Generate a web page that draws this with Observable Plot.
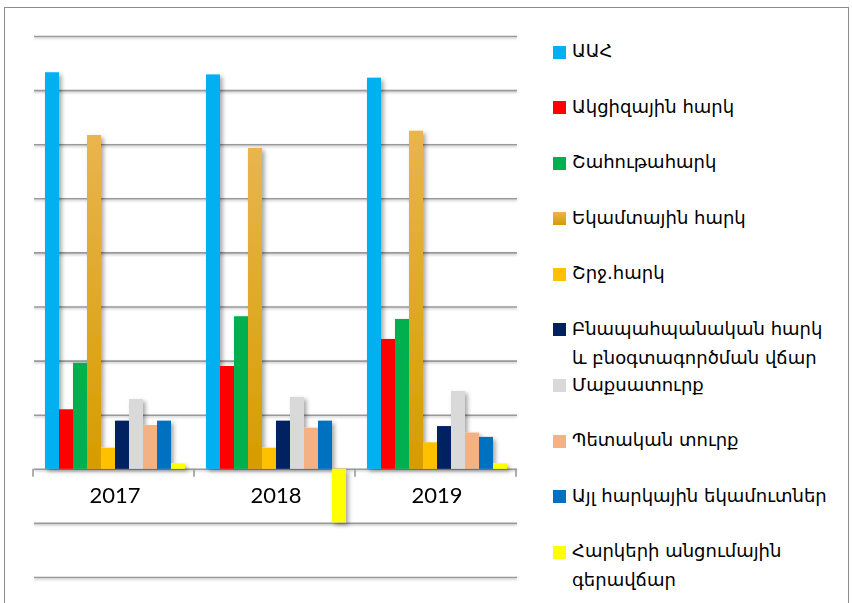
<!DOCTYPE html>
<html>
<head>
<meta charset="utf-8">
<script src="https://cdn.jsdelivr.net/npm/d3@7"></script>
<script src="https://cdn.jsdelivr.net/npm/@observablehq/plot@0.6"></script>
<style>
  html, body { margin: 0; padding: 0; background: #fff; width: 852px; height: 603px; overflow: hidden; }
  #wrap { position: relative; width: 852px; height: 603px; }
  #frame { position: absolute; left: 4px; top: 7px; width: 845px; height: 640px; border: 1.5px solid #8c8c8c; box-sizing: border-box; pointer-events: none; }
  #chart { position: absolute; left: 0; top: 0; }
  #legend { position: absolute; left: 553px; top: 24px; font-family: "DejaVu Sans", sans-serif; font-size: 18px; color: #000; }
  .item { position: relative; height: 55.6px; }
  .sw { position: absolute; left: 0; top: 21.5px; width: 13px; height: 13px; }
  .lab { position: absolute; left: 19px; top: 16px; line-height: 29px; white-space: nowrap; margin-top: -4px; }
</style>
</head>
<body>
<div id="wrap">
  <div id="chart"></div>
  <div id="legend"></div>
  <div id="frame"></div>
</div>
<script>
// ---- data ----
const years = ["2017", "2018", "2019"];
const series = [
  "ԱԱՀ",
  "Ակցիզային հարկ",
  "Շահութահարկ",
  "Եկամտային հարկ",
  "Շրջ.հարկ",
  "Բնապահպանական հարկ և բնօգտագործման վճար",
  "Մաքսատուրք",
  "Պետական տուրք",
  "Այլ հարկային եկամուտներ",
  "Հարկերի անցումային գերավճար"
];
const legendLines = [
  ["ԱԱՀ"],
  ["Ակցիզային հարկ"],
  ["Շահութահարկ"],
  ["Եկամտային հարկ"],
  ["Շրջ.հարկ"],
  ["Բնապահպանական հարկ", "և բնօգտագործման վճար"],
  ["Մաքսատուրք"],
  ["Պետական տուրք"],
  ["Այլ հարկային եկամուտներ"],
  ["Հարկերի անցումային", "գերավճար"]
];
const values2017 = [366.5, 55, 98, 308.5, 19.5, 44.5, 64.5, 40.5, 44.5, 5];
const values2018 = [364.5, 95, 141, 296.5, 19.5, 44.5, 66.5, 38, 44.5, -49.5];
const values2019 = [361.5, 120, 138.5, 312.5, 24.5, 39.5, 72, 33.5, 29.5, 5];
const gridValues = [-100, -50, 0, 50, 100, 150, 200, 250, 300, 350, 400];
const colors = ["#00B0F0", "#FF0000", "#00B050", "url(#goldGrad)", "#FFC000", "#002060", "#D9D9D9", "#F4B183", "#0070C0", "#FFFF00"];
const legendColors = ["#00B0F0", "#FF0000", "#00B050", "linear-gradient(#E9B54E, #D69C00)", "#FFC000", "#002060", "#D9D9D9", "#F4B183", "#0070C0", "#FFFF00"];

const valuesByYear = [values2017, values2018, values2019];
const data = [];
years.forEach((yr, i) => series.forEach((s, j) => data.push({year: yr, series: s, value: valuesByYear[i][j]})));

// ---- chart ----
const chart = Plot.plot({
  width: 852,
  height: 603,
  marginLeft: 33,
  marginRight: 335,
  marginTop: 36,
  marginBottom: 26,
  style: {background: "transparent", overflow: "visible"},
  fx: {domain: years, padding: 0, axis: null},
  x: {domain: series, paddingInner: 0, paddingOuter: 0.75, axis: null},
  y: {domain: [-100, 400], axis: null},
  color: {domain: series, range: colors},
  marks: [
    Plot.ruleY(gridValues, {stroke: "#9a9a9a", strokeWidth: 1.6}),
    Plot.barY(data, {fx: "year", x: "series", y: "value", fill: "series"}),
    Plot.text(years, {fx: d => d, text: d => d, frameAnchor: "bottom", dy: -75, fontSize: 22, fontFamily: "Lato, 'Open Sans', sans-serif", fill: "#000"})
  ]
});

const svg = d3.select(chart);
const defs = svg.insert("defs", ":first-child");
const g = defs.append("linearGradient").attr("id", "goldGrad").attr("x1", 0).attr("y1", 0).attr("x2", 0).attr("y2", 1);
g.append("stop").attr("offset", "0%").attr("stop-color", "#E9B54E");
g.append("stop").attr("offset", "100%").attr("stop-color", "#D69C00");
const f = defs.append("filter").attr("id", "shadow").attr("x", "-50%").attr("y", "-20%").attr("width", "200%").attr("height", "140%");
f.append("feDropShadow").attr("dx", 2.5).attr("dy", 2.5).attr("stdDeviation", 2.2).attr("flood-color", "#000").attr("flood-opacity", 0.35);
const f2 = defs.append("filter").attr("id", "shadowLine").attr("x", "-5%").attr("y", "-200%").attr("width", "110%").attr("height", "500%");
f2.append("feDropShadow").attr("dx", 0).attr("dy", 1.2).attr("stdDeviation", 0.8).attr("flood-color", "#000").attr("flood-opacity", 0.25);

svg.selectAll('g[aria-label="bar"]').attr("filter", "url(#shadow)");
svg.selectAll('g[aria-label="rule"]').attr("filter", "url(#shadowLine)");

// category tick marks at band boundaries, from the library's fx and y scales
const fx = chart.scale("fx");
const y = chart.scale("y");
const y0 = y.apply(0);
const tickG = svg.append("g").attr("stroke", "#9a9a9a").attr("stroke-width", 1.6);
for (let i = 0; i <= years.length; i++) {
  const xb = fx.range[0] + i * fx.step;
  tickG.append("line").attr("x1", xb).attr("x2", xb).attr("y1", y0).attr("y2", y0 + 8);
}

document.getElementById("chart").appendChild(chart);

// ---- legend ----
const legend = d3.select("#legend");
series.forEach((s, i) => {
  const it = legend.append("div").attr("class", "item");
  it.append("div").attr("class", "sw").style("background", legendColors[i]);
  it.append("div").attr("class", "lab").html(legendLines[i].join("<br>"));
});
</script>
</body>
</html>
